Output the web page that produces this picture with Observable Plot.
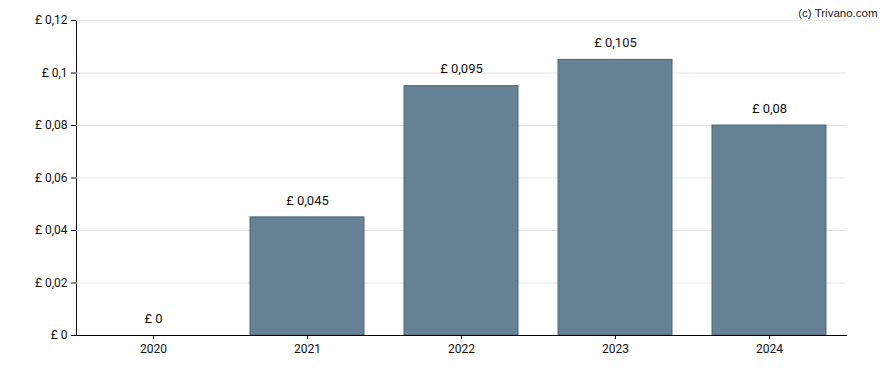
<!DOCTYPE html>
<html>
<head>
<meta charset="utf-8">
<script src="https://cdn.jsdelivr.net/npm/d3@7"></script>
<script src="https://cdn.jsdelivr.net/npm/@observablehq/plot@0.6"></script>
<style>
  html, body { margin: 0; padding: 0; background: #fff; }
  #chart svg { display: block; }
</style>
</head>
<body>
<div id="chart"></div>
<script>
const years = ["2020", "2021", "2022", "2023", "2024"];
const dividends = [0, 0.045, 0.095, 0.105, 0.08];
const yTicks = [0, 0.02, 0.04, 0.06, 0.08, 0.1, 0.12];
const credit = "(c) Trivano.com";

const data = years.map((year, i) => ({year, value: dividends[i]}));
const fmt = v => "£ " + String(+(+v).toFixed(4)).replace(".", ",");

const chart = Plot.plot({
  width: 888,
  height: 370,
  marginLeft: 76,
  marginRight: 42,
  marginTop: 20,
  marginBottom: 35,
  style: {fontFamily: "Roboto, sans-serif", fontSize: "12px", color: "#111", background: "#fff"},
  x: {domain: years, paddingInner: 0.26, paddingOuter: 0.13, label: null, tickSize: 4, tickPadding: 5, line: true},
  y: {domain: [0, 0.12], ticks: yTicks, tickFormat: fmt, label: null, tickSize: 5, tickPadding: 4, line: true},
  marks: [
    Plot.gridY(yTicks, {stroke: "#e4e4e4", strokeOpacity: 1}),
    Plot.barY(data, {x: "year", y: "value", fill: "#658193", stroke: "#4b667b", strokeWidth: 1}),
    Plot.text(data, {x: "year", y: "value", text: d => fmt(d.value), dy: -17, fill: "#111", fontSize: 13}),
    Plot.ruleY([0], {stroke: "#000"}),
    Plot.text([credit], {frameAnchor: "top-right", dx: 31, dy: -12, textAnchor: "end", fontFamily: "'Liberation Sans', Arial, sans-serif", fontSize: 11.5, fill: "#222"})
  ]
});
document.getElementById("chart").appendChild(chart);
</script>
</body>
</html>
